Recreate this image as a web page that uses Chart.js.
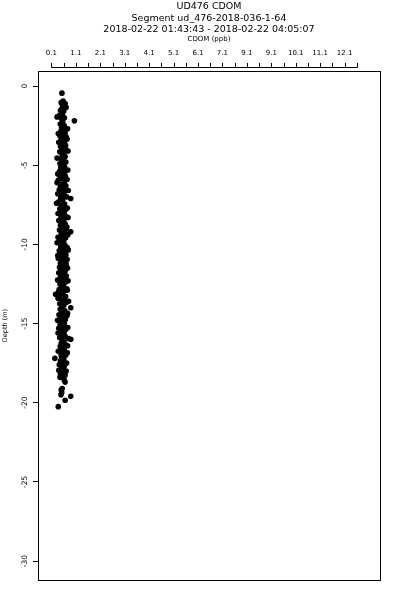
<!DOCTYPE html>
<html>
<head>
<meta charset="utf-8">
<script src="https://cdn.jsdelivr.net/npm/chart.js@4"></script>
<style>
  html, body { margin: 0; padding: 0; background: #fff; }
  canvas { display: block; }
</style>
</head>
<body>
<canvas id="plot" width="400" height="600"></canvas>
<script>
const titleLines = [
  'UD476 CDOM',
  'Segment ud_476-2018-036-1-64',
  '2018-02-22 01:43:43 - 2018-02-22 04:05:07'
];
const xTitle = 'CDOM (ppb)';
const yTitle = 'Depth (m)';

// top axis: ticks every half unit, labels on every other one (as printed)
const xTickValues = [0.1, 0.6, 1.1, 1.6, 2.1, 2.6, 3.1, 3.6, 4.1, 4.6, 5.1, 5.6, 6.1,
  6.6, 7.1, 7.6, 8.1, 8.6, 9.1, 9.6, 10.1, 10.6, 11.1, 11.6, 12.1, 12.6];
const xTickLabels = ['0.1', '1.1', '2.1', '3.1', '4.1', '5.1', '6.1', '7.1', '9.1',
  '9.1', '10.1', '11.1', '12.1'];
const yTickValues = [0, -5, -10, -15, -20, -25, -30];

// depth (m) and cdom (ppb)
const depth = [
  -0.45, -0.95, -1.05, -1.1, -1.2, -1.3, -1.45, -1.55, -1.6, -1.75, -1.85, -1.95, -2.0, -2.05, -2.2,
  -2.25, -2.4, -2.5, -2.6, -2.75, -2.85, -2.95, -3.05, -3.15, -3.2, -3.3, -3.4, -3.5, -3.55, -3.65,
  -3.75, -3.8, -3.9, -4.0, -4.05, -4.15, -4.25, -4.3, -4.45, -4.55, -4.6, -4.7, -4.8, -4.9, -5.0,
  -5.1, -5.15, -5.25, -5.35, -5.4, -5.5, -5.6, -5.7, -5.75, -5.85, -5.95, -6.05, -6.1, -6.2, -6.3,
  -6.35, -6.45, -6.55, -6.65, -6.7, -6.8, -6.9, -7.0, -7.05, -7.1, -7.2, -7.3, -7.4, -7.45, -7.55,
  -7.65, -7.75, -7.8, -7.9, -8.0, -8.1, -8.15, -8.25, -8.35, -8.45, -8.5, -8.6, -8.7, -8.8, -8.85,
  -8.95, -9.05, -9.1, -9.2, -9.25, -9.35, -9.45, -9.55, -9.6, -9.7, -9.8, -9.9, -9.95,
  -10.05, -10.15, -10.2, -10.3, -10.4, -10.5, -10.55, -10.65, -10.75, -10.85, -10.9, -11.0, -11.1,
  -11.2, -11.25, -11.35, -11.45, -11.55, -11.6, -11.7, -11.8, -11.9, -12.0, -12.05, -12.15, -12.25,
  -12.35, -12.4, -12.5, -12.6, -12.7, -12.8, -12.85, -12.95, -13.05, -13.15, -13.2, -13.3, -13.4,
  -13.5, -13.55, -13.65, -13.75, -13.85, -13.95, -14.0, -14.1, -14.2, -14.3, -14.35, -14.45, -14.55,
  -14.65, -14.75, -14.8, -14.9,
  -15.0, -15.1, -15.2, -15.3, -15.35, -15.45, -15.55, -15.65, -15.7, -15.8, -15.9, -16.0, -16.05,
  -16.15, -16.25, -16.35, -16.45, -16.5, -16.6, -16.7, -16.8, -16.9, -17.0, -17.05, -17.2, -17.25,
  -17.35, -17.45, -17.6, -17.7, -17.8, -17.95, -18.05, -18.2, -18.3, -18.4, -18.55, -18.7, -19.1,
  -19.2, -19.35, -19.5, -19.6, -19.85, -20.25,
  -1.35, -2.7, -3.35, -4.1, -5.3, -5.9, -6.6, -7.7, -8.3, -8.9, -9.4, -10.35, -10.95,
  -11.5, -12.3, -12.9, -13.6, -14.5, -15.25, -15.95, -16.4, -16.85, -17.5, -18.0, -18.25,
  -3.0, -5.55, -8.05, -10.7, -13.0, -15.6, -16.75
];
const cdom = [
  0.53, 0.58, 0.50, 0.66, 0.55, 0.62, 0.52, 0.47, 0.60, 0.55, 0.43, 0.33, 0.63, 0.50, 1.04,
  0.56, 0.46, 0.62, 0.52, 0.58, 0.49, 0.66, 0.54, 0.45, 0.70, 0.57, 0.50, 0.63, 0.40, 0.55,
  0.68, 0.47, 0.60, 0.52, 0.72, 0.44, 0.61, 0.53, 0.66, 0.33, 0.49, 0.58, 0.69, 0.45, 0.56,
  0.64, 0.48, 0.58, 0.70, 0.43, 0.61, 0.52, 0.67, 0.46, 0.57, 0.38, 0.63, 0.33, 0.54, 0.69,
  0.47, 0.59, 0.42, 0.65, 0.51, 0.36, 0.60, 0.72, 0.48, 0.89, 0.56, 0.41, 0.31, 0.64, 0.50,
  0.58, 0.44, 0.68, 0.53, 0.62, 0.46, 0.57, 0.70, 0.49, 0.61, 0.40, 0.55, 0.66, 0.47, 0.59,
  0.52, 0.71, 0.43, 0.89, 0.63, 0.50, 0.57, 0.37, 0.68, 0.46, 0.60, 0.33, 0.54,
  0.65, 0.48, 0.74, 0.56, 0.42, 0.62, 0.51, 0.69, 0.45, 0.58, 0.38, 0.64, 0.53,
  0.47, 0.70, 0.57, 0.43, 0.62, 0.50, 0.66, 0.40, 0.56, 0.71, 0.48, 0.60, 0.35,
  0.54, 0.67, 0.45, 0.59, 0.51, 0.73, 0.42, 0.63, 0.55, 0.27, 0.47, 0.68, 0.37,
  0.58, 0.50, 0.71, 0.44, 0.61, 0.53, 0.89, 0.46, 0.65, 0.56, 0.76, 0.41, 0.60,
  0.49, 0.67, 0.35, 0.55,
  0.63, 0.45, 0.58, 0.40, 0.70, 0.52, 0.62, 0.47, 0.57, 0.66, 0.44, 0.89, 0.55,
  0.61, 0.50, 0.69, 0.46, 0.58, 0.52, 0.64, 0.45, 0.57, 0.68, 0.50, 0.24, 0.60,
  0.47, 0.55, 0.42, 0.62, 0.51, 0.40, 0.58, 0.47, 0.55, 0.45, 0.62, 0.66, 0.54,
  0.50, 0.52, 0.49, 0.89, 0.66, 0.38,
  0.70, 0.76, 0.74, 0.78, 0.77, 0.74, 0.79, 0.75, 0.78, 0.73, 0.77, 0.79, 0.74,
  0.76, 0.78, 0.75, 0.80, 0.74, 0.77, 0.79, 0.76, 0.75, 0.72, 0.70, 0.66,
  0.38, 0.36, 0.37, 0.36, 0.39, 0.37, 0.38
];

const font = 'DejaVu Sans';

// box, top axis line + tick marks, and the three title lines
const frame = {
  id: 'frame',
  afterDraw(chart) {
    const { ctx, chartArea: a, scales: { x } } = chart;
    ctx.save();
    ctx.strokeStyle = '#000';
    ctx.lineWidth = 1;
    ctx.strokeRect(a.left + 0.5, a.top + 0.5, a.right - a.left, a.bottom - a.top);

    const y0 = Math.round(a.top) - 4 + 0.5;
    const px = x.ticks.map(t => Math.round(x.getPixelForValue(t.value)) + 0.5);
    ctx.beginPath();
    ctx.moveTo(px[0], y0);
    ctx.lineTo(px[px.length - 1], y0);
    px.forEach(p => { ctx.moveTo(p, y0); ctx.lineTo(p, y0 - 4.5); });
    ctx.stroke();

    ctx.fillStyle = '#000';
    ctx.font = '9.5px "' + font + '"';
    ctx.textAlign = 'center';
    ctx.textBaseline = 'middle';
    const cx = (a.left + a.right) / 2;
    titleLines.forEach((t, i) => ctx.fillText(t, cx, 7 + i * 11.5));
    ctx.restore();
  }
};

new Chart(document.getElementById('plot'), {
  type: 'scatter',
  data: {
    datasets: [{
      data: depth.map((d, i) => ({ x: cdom[i], y: d })),
      pointRadius: 2.8,
      pointHoverRadius: 2.8,
      backgroundColor: '#000',
      borderWidth: 0
    }]
  },
  options: {
    responsive: false,
    animation: false,
    events: [],
    layout: { padding: { top: 34, right: 20, bottom: 20, left: 0 } },
    plugins: { legend: { display: false }, tooltip: { enabled: false } },
    scales: {
      x: {
        type: 'linear',
        position: 'top',
        min: -0.45,
        max: 13.55,
        afterBuildTicks: s => { s.ticks = xTickValues.map(v => ({ value: v })); },
        afterFit: s => { s.height = 37; },
        ticks: {
          autoSkip: false,
          maxRotation: 0,
          padding: 14,
          color: '#000',
          font: { family: font, size: 7 },
          callback: (v, i) => (i % 2 === 0 ? xTickLabels[i / 2] : '')
        },
        grid: { display: false, drawTicks: false },
        border: { display: false },
        title: {
          display: true,
          text: xTitle,
          color: '#000',
          font: { family: font, size: 7 },
          padding: { top: 1, bottom: 0 }
        }
      },
      y: {
        type: 'linear',
        min: -31.2,
        max: 0.95,
        afterBuildTicks: s => { s.ticks = yTickValues.map(v => ({ value: v })); },
        afterFit: s => { s.width = 38; },
        ticks: {
          minRotation: 90,
          maxRotation: 90,
          crossAlign: 'center',
          padding: 2,
          color: '#000',
          font: { family: font, size: 7.5 },
          callback: v => String(v)
        },
        grid: { drawOnChartArea: false, tickLength: 5, color: '#000', lineWidth: 1 },
        border: { display: false },
        title: {
          display: true,
          text: yTitle,
          color: '#000',
          font: { family: font, size: 6.5 },
          padding: { top: 1, bottom: 0 }
        }
      }
    }
  },
  plugins: [frame]
});
</script>
</body>
</html>
